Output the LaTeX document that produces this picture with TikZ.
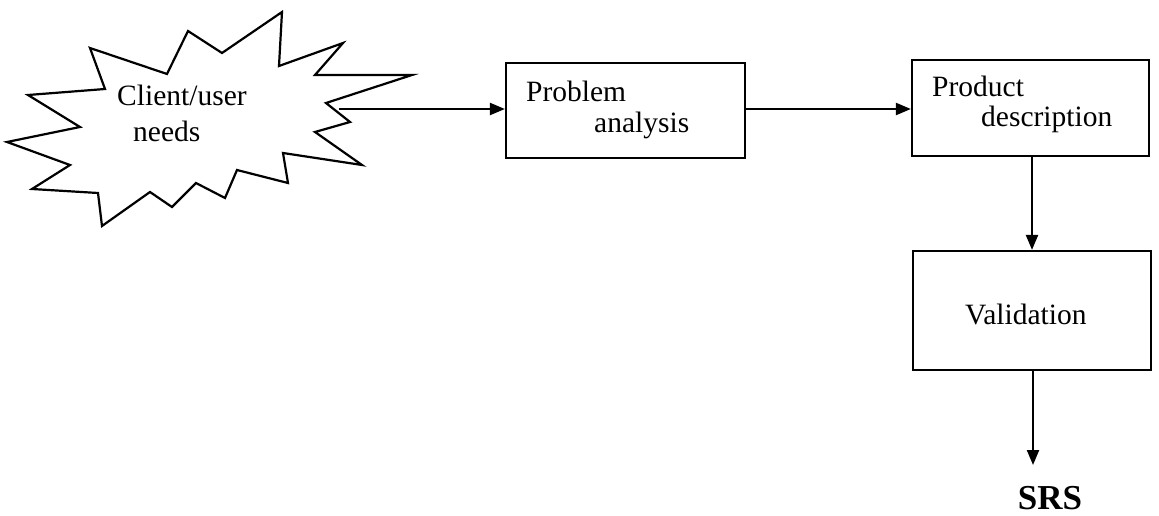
\documentclass[tikz,border=0pt]{standalone}
\usepackage{fontspec}
\setmainfont{Liberation Serif}
\usetikzlibrary{arrows.meta}
\begin{document}
\begin{tikzpicture}[x=1pt,y=-1pt,
  line/.style={line width=2.2pt, line join=miter},
  boxnode/.style={draw, line width=2.2pt, inner sep=0pt, anchor=center},
  arr/.style={line width=2.2pt, -{Triangle[length=15pt,width=12pt]}},
  lbl/.style={anchor=base west, inner sep=0pt, font=\fontsize{29.5}{34}\selectfont},
  srsstyle/.style={anchor=base, inner sep=0pt, font=\fontsize{35}{40}\selectfont\bfseries}]
\useasboundingbox (0,0) rectangle (1159,516);
% starburst
\draw[line] (7,142) -- (80,127) -- (28,95) -- (105,89) -- (90,48) -- (167,74) -- (188,31) -- (222,53) -- (282,12) -- (279,66) -- (343,43) -- (315,75) -- (412,75) -- (326,103) -- (350,122) -- (315,132) -- (362,165) -- (283,153) -- (288,183) -- (237,170) -- (225,198) -- (196,183) -- (172,207) -- (150,192) -- (102,226) -- (98,193) -- (32,189) -- (70,165) -- cycle;
\coordinate (sbout) at (339,109);
\node[lbl] (cu) at (117,106) {Client/user};
\node[lbl] (nd) at (133,142) {needs};
% boxes
\node[boxnode, minimum width=239pt, minimum height=95pt] (pa) at (625.5,110.5) {};
\node[lbl] (pa1) at (526,102) {Problem};
\node[lbl] (pa2) at (594,133) {analysis};
\node[boxnode, minimum width=237pt, minimum height=96pt] (pd) at (1030.5,108) {};
\node[lbl] (pd1) at (932,97) {Product};
\node[lbl] (pd2) at (981,127) {description};
\node[boxnode, minimum width=238pt, minimum height=119pt] (val) at (1032,310.5) {};
\node[lbl] (val1) at (965,324) {Validation};
\node[srsstyle] (srs) at (1050,509) {SRS};
\coordinate (srsin) at (1033,465);
% connectors
\draw[arr] (sbout) -- (sbout -| pa.west);
\draw[arr] (pa.east |- 0,109) -- (pd.west |- 0,109);
\draw[arr] (pd.south -| 1032,0) -- (val.north -| 1032,0);
\draw[arr] (val.south -| srsin) -- (srsin);
\end{tikzpicture}
\end{document}
